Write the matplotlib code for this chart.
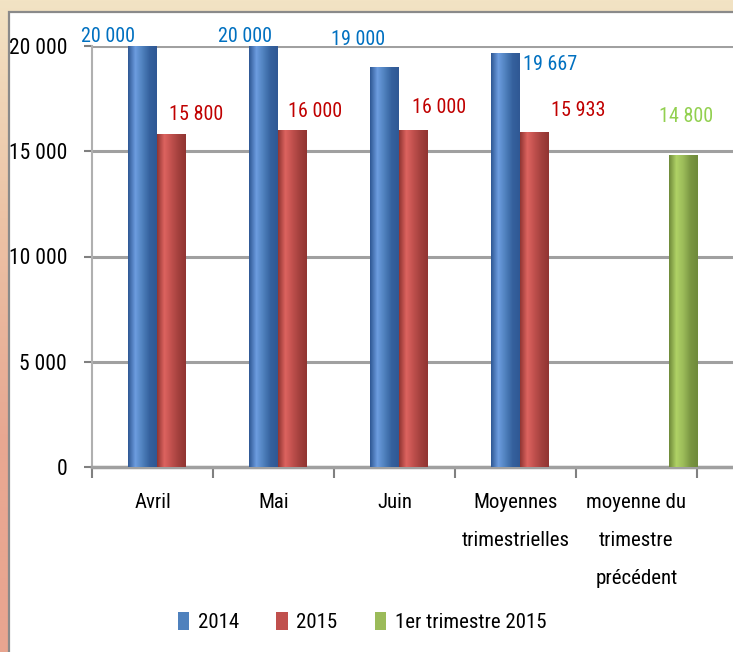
import numpy as np
import matplotlib
matplotlib.use("Agg")
import matplotlib.pyplot as plt
from matplotlib.colors import LinearSegmentedColormap
from matplotlib.patches import Rectangle, Patch

plt.rcParams["font.family"] = ["Roboto Condensed", "Arial Narrow", "Liberation Sans Narrow",
                               "Carlito", "DejaVu Sans"]

# --- data ---
categories = ["Avril", "Mai", "Juin", "Moyennes\ntrimestrielles",
              "moyenne du\ntrimestre\nprécédent"]
series_names = ["2014", "2015", "1er trimestre 2015"]
values_2014 = [20000, 20000, 19000, 19667, None]
values_2015 = [15800, 16000, 16000, 15933, None]
values_t1 = [None, None, None, None, 14800]
y_ticks = [0, 5000, 10000, 15000, 20000]

# label offsets in pixels (dx, dy) of the label centre from the top centre of each bar
off_2014 = [(-34, 9), (-18, 9), (-26, 28), (45, -11), None]
off_2015 = [(25, 20), (23, 19), (26, 23), (45, 21), None]
off_t1 = [None, None, None, None, (3, 39)]

colors = ["#4F81BD", "#C0504D", "#9BBB59"]
shades = [("#35619e", "#6d9de0", "#2f5894"),
          ("#a3403d", "#dd6460", "#913532"),
          ("#7a9642", "#b0d266", "#6f8a3a")]
label_colors = ["#0070C0", "#C00000", "#92D050"]

W, H = 733, 652
fig = plt.figure(figsize=(W / 100, H / 100), dpi=100)

# page background: beige at the top fading to salmon at the bottom
bg = fig.add_axes([0, 0, 1, 1], zorder=-10)
grad = np.linspace(0, 1, 256).reshape(-1, 1)
bg_cmap = LinearSegmentedColormap.from_list("bg", ["#F2E3C4", "#ECC3A6", "#E8A892", "#E8A590"])
bg.imshow(grad, cmap=bg_cmap, aspect="auto", extent=[0, 1, 0, 1])
bg.set_axis_off()
# white chart area with grey frame
fig.patches.append(Rectangle((9 / W, -0.01), 1.0, 1 - 12 / H + 0.01,
                             transform=fig.transFigure, facecolor="white",
                             edgecolor="#8a8a8a", linewidth=1.6, zorder=-5))

ax = fig.add_axes([92 / W, 1 - 467 / H, (W - 92) / W, (467 - 46) / H])
ax.set_facecolor("none")

x = np.arange(len(categories))
width = 0.232
offsets = [-0.085, 0.150, 0.385]
all_series = [values_2014, values_2015, values_t1]
all_offs = [off_2014, off_2015, off_t1]

for k, (vals, offs) in enumerate(zip(all_series, all_offs)):
    for i, v in enumerate(vals):
        if v is None:
            continue
        xc = x[i] + offsets[k]
        bar = ax.bar(xc, v, width=width, color=colors[k], zorder=3)[0]
        dark, light, edge = shades[k]
        cm = LinearSegmentedColormap.from_list("c%d" % k, [edge, light, colors[k], dark, edge])
        im = ax.imshow(np.linspace(0, 1, 64).reshape(1, -1), cmap=cm, aspect="auto",
                       extent=[xc - width / 2, xc + width / 2, 0, v], zorder=4)
        im.set_clip_path(bar)
        dx, dy = offs[i]
        ax.annotate(f"{v:,}".replace(",", " "), xy=(xc, v), xytext=(dx, dy),
                    textcoords="offset pixels", ha="center", va="center",
                    color=label_colors[k], fontsize=14.5, annotation_clip=False,
                    zorder=5)

ax.set_xlim(-0.5, 4.5 + 36 / 121)
ax.set_ylim(0, 20000)

ax.set_yticks(y_ticks)
ax.set_yticklabels([f"{t:,}".replace(",", " ") for t in y_ticks], fontsize=15.5)
ax.set_xticks(x)
ax.set_xticklabels(categories, fontsize=15, linespacing=2.25)
ax.set_xticks(np.arange(-0.5, 5, 1), minor=True)
ax.tick_params(axis="x", which="major", length=0, pad=19)
ax.tick_params(axis="x", which="minor", length=8, width=1.5, color="#808080")
ax.tick_params(axis="y", length=6, width=1.5, color="#808080", pad=12)

ax.yaxis.grid(True, color="#a0a0a0", linewidth=2.2, zorder=0)
ax.set_axisbelow(True)
for s in ["top", "right"]:
    ax.spines[s].set_visible(False)
ax.spines["left"].set_color("#b0b0b0")
ax.spines["left"].set_linewidth(1.5)
ax.spines["bottom"].set_color("#a0a0a0")
ax.spines["bottom"].set_linewidth(2.5)

handles = [Patch(facecolor=c, edgecolor="none") for c in colors]
fig.legend(handles, series_names, loc="center", bbox_to_anchor=(362 / W, 1 - 622 / H),
           ncol=3, frameon=False, fontsize=15, handlelength=0.55, handleheight=1.0,
           handletextpad=0.4, columnspacing=1.8)

fig.savefig("out.png", dpi=100)
plt.close(fig)
